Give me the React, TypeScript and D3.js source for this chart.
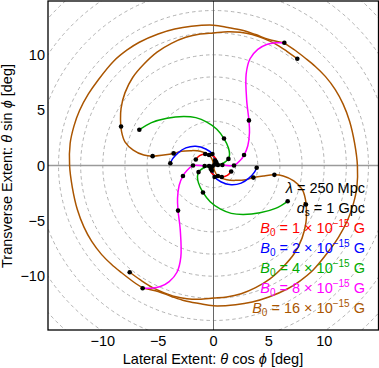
import React, { useEffect, useRef } from 'react';
import * as d3 from 'd3';

type Pt = [number, number];

const xTicks = [-10, -5, 0, 5, 10];
const yTicks = [-10, -5, 0, 5, 10];
const ringRadii = [2, 4, 6, 8, 10, 12, 14, 16, 18, 20];

// B0 = 1e-15 G
const redArm1: Pt[] = [[0, 0], [0.25, 0.3], [0.2, 0.65], [-0.2, 0.95], [-0.75, 1.05], [-1.25, 0.9], [-1.6, 0.55]];
const redArm2: Pt[] = [[0, 0], [-0.25, -0.3], [-0.2, -0.65], [0.2, -0.95], [0.75, -1.05], [1.25, -0.9], [1.6, -0.55]];
const redDots: Pt[] = [[0.1, 0.1], [0.25, 0.3], [-0.75, 1.05], [-1.6, 0.55], [-0.1, -0.1], [-0.25, -0.3], [0.75, -1.05], [1.6, -0.55]];

// B0 = 2e-15 G
const blueArm1: Pt[] = [[0, 0], [0.15, 0.45], [-0.1, 1.05], [-0.7, 1.5], [-1.6, 1.75], [-2.5, 1.6], [-3.2, 1.15], [-3.7, 0.6], [-3.9, 0.2]];
const blueArm2: Pt[] = [[0, 0], [-0.15, -0.45], [0.1, -1.05], [0.7, -1.5], [1.6, -1.75], [2.5, -1.6], [3.2, -1.15], [3.7, -0.6], [3.9, -0.2]];
const blueDots: Pt[] = [[0.15, 0.45], [-0.1, 1.05], [-3.9, 0.2], [-0.15, -0.45], [0.1, -1.05], [3.9, -0.2]];

// B0 = 4e-15 G
const greenArm1: Pt[] = [[0, 0], [0.4, 0.05], [0.95, 0.25], [1.35, 0.6], [1.45, 1.05], [1.35, 1.6], [0.95, 2.45], [0.3, 3.3], [-0.6, 3.95], [-1.6, 4.35], [-2.7, 4.45], [-4.2, 4.3], [-5.6, 3.9], [-6.7, 3.25]];
const greenArm2: Pt[] = [[0, 0], [-0.4, -0.05], [-0.95, -0.25], [-1.35, -0.6], [-1.45, -1.05], [-1.35, -1.6], [-0.95, -2.45], [-0.3, -3.3], [0.6, -3.95], [1.6, -4.35], [2.7, -4.45], [4.2, -4.3], [5.6, -3.9], [6.7, -3.25]];
const greenDots: Pt[] = [[0.4, 0.05], [1.35, 0.6], [0.95, 2.45], [-6.7, 3.25], [-0.4, -0.05], [-1.35, -0.6], [-0.95, -2.45], [6.7, -3.25]];

// B0 = 8e-15 G
const magentaArm1: Pt[] = [[0, 0], [0.8, 0.05], [1.85, 0.0], [2.4, 0.45], [2.76, 0.95], [3.1, 1.8], [3.25, 3.0], [3.2, 4.1], [3.0, 5.9], [2.95, 8.3], [3.3, 9.7], [4.0, 10.55], [4.8, 11.0], [5.6, 11.15], [6.4, 11.15]];
const magentaArm2: Pt[] = [[0, 0], [-0.8, -0.05], [-1.85, 0.0], [-2.4, -0.45], [-2.76, -0.95], [-3.1, -1.8], [-3.25, -3.0], [-3.2, -4.1], [-3.0, -5.9], [-2.95, -8.3], [-3.3, -9.7], [-4.0, -10.55], [-4.8, -11.0], [-5.6, -11.15], [-6.4, -11.15]];
const magentaDots: Pt[] = [[0.8, 0.05], [1.85, 0], [2.76, 0.95], [3.2, 4.1], [6.4, 11.15], [-0.8, -0.05], [-1.85, 0], [-2.76, -0.95], [-3.2, -4.1], [-6.4, -11.15]];

// B0 = 16e-15 G
const brownArm1: Pt[] = [[0, 0], [-0.1, 0.5], [-0.4, 0.95], [-1.2, 1.3], [-2.1, 1.35], [-2.9, 1.3], [-3.6, 1.1], [-4.5, 0.95], [-5.5, 0.85], [-6.3, 0.95], [-7.25, 1.4], [-8.0, 2.15], [-8.3, 3.05], [-8.4, 4.2], [-8.35, 5.2], [-8.0, 6.6], [-7.3, 8.0], [-6.3, 9.2], [-5.1, 10.3], [-3.8, 11.1], [-2.5, 11.65], [-1.2, 11.95], [0, 12.05], [1.3, 12.15], [2.4, 12.1], [3.5, 11.9], [4.5, 11.55], [5.5, 11.1], [6.6, 10.4], [7.57, 9.7]];
const brownArm2: Pt[] = [[0, 0], [0.1, -0.5], [0.4, -0.95], [1.2, -1.3], [2.1, -1.35], [2.9, -1.3], [3.6, -1.1], [4.5, -0.95], [5.5, -0.85], [6.3, -0.95], [7.25, -1.4], [8.0, -2.15], [8.3, -3.05], [8.4, -4.2], [8.35, -5.2], [8.0, -6.6], [7.3, -8.0], [6.3, -9.2], [5.1, -10.3], [3.8, -11.1], [2.5, -11.65], [1.2, -11.95], [0, -12.05], [-1.3, -12.15], [-2.4, -12.1], [-3.5, -11.9], [-4.5, -11.55], [-5.5, -11.1], [-6.6, -10.4], [-7.57, -9.7]];
const brownTail1: Pt[] = [[6.4, 11.13], [7.4, 10.45], [8.3, 9.75], [9.2, 9.0], [10.1, 8.1], [11.0, 6.9], [11.7, 5.6], [12.3, 4.0], [12.75, 2.0], [13.0, 0], [12.95, -2.0], [12.6, -3.6], [12.1, -5.0], [11.3, -6.5], [10.4, -7.8], [9.0, -9.5], [7.8, -10.5], [6.7, -11.2], [5.0, -11.95], [3.5, -12.4], [2.0, -12.65], [0, -12.75], [-1.3, -12.55], [-2.6, -12.3], [-3.8, -11.9], [-5.0, -11.45], [-6.4, -11.13]];
const brownTail2: Pt[] = [[-6.4, -11.13], [-7.4, -10.45], [-8.3, -9.75], [-9.2, -9.0], [-10.1, -8.1], [-11.0, -6.9], [-11.7, -5.6], [-12.3, -4.0], [-12.75, -2.0], [-13.0, 0], [-12.95, 2.0], [-12.6, 3.6], [-12.1, 5.0], [-11.3, 6.5], [-10.4, 7.8], [-9.0, 9.5], [-7.8, 10.5], [-6.7, 11.2], [-5.0, 11.95], [-3.5, 12.4], [-2.0, 12.65], [0, 12.75], [1.3, 12.55], [2.6, 12.3], [3.8, 11.9], [5.0, 11.45], [6.4, 11.13]];
const brownDots: Pt[] = [[-0.4, 0.95], [-3.6, 1.1], [-5.5, 0.85], [-8.35, 3.55], [7.57, 9.7], [0.4, -0.95], [3.6, -1.1], [5.5, -0.85], [8.35, -3.55], [-7.57, -9.7]];

const b0Values = ['1', '2', '4', '8', '16'];
const colors = ['#ff0000', '#0000ff', '#00aa00', '#ff00ff', '#aa5500'];

const series = [
  { curves: [redArm1, redArm2], dots: redDots },
  { curves: [blueArm1, blueArm2], dots: blueDots },
  { curves: [greenArm1, greenArm2], dots: greenDots },
  { curves: [magentaArm1, magentaArm2], dots: magentaDots },
  { curves: [brownArm1, brownArm2, brownTail1, brownTail2], dots: brownDots },
];

const FONT = '"Liberation Sans", Arial, Helvetica, sans-serif';

export default function App() {
  const ref = useRef<SVGSVGElement>(null);

  useEffect(() => {
    const width = 379, height = 368;
    const left = 48, right = 378.5, top = 1, bottom = 330;

    const svg = d3.select(ref.current);
    svg.selectAll('*').remove();

    const x = d3.scaleLinear().domain([-14.95, 14.95]).range([left, 379]);
    const y = d3.scaleLinear().domain([-14.95, 14.95]).range([bottom, top]);

    svg.append('rect').attr('width', width).attr('height', height).attr('fill', '#fff');

    svg.append('clipPath').attr('id', 'plotclip')
      .append('rect')
      .attr('x', left).attr('y', top)
      .attr('width', right - left).attr('height', bottom - top);

    const plot = svg.append('g').attr('clip-path', 'url(#plotclip)');

    // dashed rings
    plot.selectAll('.ring')
      .data(ringRadii)
      .enter()
      .append('circle')
      .attr('cx', x(0))
      .attr('cy', y(0))
      .attr('r', d => x(d) - x(0))
      .attr('fill', 'none')
      .attr('stroke', '#a0a0a0')
      .attr('stroke-width', 0.8)
      .attr('stroke-dasharray', '3.5,3');

    // axes through origin
    plot.append('line')
      .attr('x1', left).attr('x2', right)
      .attr('y1', y(0)).attr('y2', y(0))
      .attr('stroke', '#9a9a9a').attr('stroke-width', 1.5);
    plot.append('line')
      .attr('x1', x(0)).attr('x2', x(0))
      .attr('y1', top).attr('y2', bottom)
      .attr('stroke', '#666').attr('stroke-width', 1);

    const line = d3.line<Pt>()
      .x(d => x(d[0]))
      .y(d => y(d[1]))
      .curve(d3.curveCatmullRom.alpha(0.5));

    // brown underneath, red on top
    for (let i = series.length - 1; i >= 0; i--) {
      plot.selectAll('.c' + i)
        .data(series[i].curves)
        .enter()
        .append('path')
        .attr('d', d => line(d))
        .attr('fill', 'none')
        .attr('stroke', colors[i])
        .attr('stroke-width', 1.5);
    }

    const allDots = series.flatMap(s => s.dots);
    plot.selectAll('.dot')
      .data(allDots)
      .enter()
      .append('circle')
      .attr('cx', d => x(d[0]))
      .attr('cy', d => y(d[1]))
      .attr('r', 2.3)
      .attr('fill', '#000');

    // frame
    svg.append('rect')
      .attr('x', left).attr('y', top)
      .attr('width', right - left).attr('height', bottom - top)
      .attr('fill', 'none')
      .attr('stroke', '#000')
      .attr('stroke-width', 1.3);

    const fmt = (v: number) => (v < 0 ? '\u2212' + Math.abs(v) : String(v));

    svg.selectAll('.xt')
      .data(xTicks)
      .enter()
      .append('text')
      .attr('x', d => x(d))
      .attr('y', 346)
      .attr('text-anchor', 'middle')
      .style('font-family', FONT)
      .style('font-size', '14.5px')
      .text(d => fmt(d));

    svg.selectAll('.yt')
      .data(yTicks)
      .enter()
      .append('text')
      .attr('x', 45)
      .attr('y', d => y(d) + 5)
      .attr('text-anchor', 'end')
      .style('font-family', FONT)
      .style('font-size', '14.5px')
      .text(d => fmt(d));

    // axis titles
    const xt = svg.append('text')
      .attr('x', 213).attr('y', 364)
      .attr('text-anchor', 'middle')
      .style('font-family', FONT)
      .style('font-size', '14.5px');
    xt.append('tspan').text('Lateral Extent:  ');
    xt.append('tspan').attr('font-style', 'italic').text('\u03b8');
    xt.append('tspan').text(' cos ');
    xt.append('tspan').attr('font-style', 'italic').text('\u03d5');
    xt.append('tspan').text('  [deg]');

    const yt = svg.append('text')
      .attr('transform', 'translate(12,166) rotate(-90)')
      .attr('text-anchor', 'middle')
      .style('font-family', FONT)
      .style('font-size', '14.5px');
    yt.append('tspan').text('Transverse Extent:  ');
    yt.append('tspan').attr('font-style', 'italic').text('\u03b8');
    yt.append('tspan').text(' sin ');
    yt.append('tspan').attr('font-style', 'italic').text('\u03d5');
    yt.append('tspan').text('  [deg]');

    // legend
    const lx = 365;
    const lam = svg.append('text').attr('x', lx).attr('y', 193)
      .attr('text-anchor', 'end').style('font-family', FONT).style('font-size', '14.5px');
    lam.append('tspan').attr('font-style', 'italic').text('\u03bb');
    lam.append('tspan').text(' = 250 Mpc');

    const ds = svg.append('text').attr('x', lx).attr('y', 213)
      .attr('text-anchor', 'end').style('font-family', FONT).style('font-size', '14.5px');
    ds.append('tspan').attr('font-style', 'italic').text('d');
    ds.append('tspan').attr('font-size', '10px').attr('dy', 3).text('s');
    ds.append('tspan').attr('dy', -3).text(' = 1 Gpc');

    b0Values.forEach((b, i) => {
      const t = svg.append('text').attr('x', lx).attr('y', 233 + i * 20)
        .attr('text-anchor', 'end').attr('fill', colors[i])
        .style('font-family', FONT).style('font-size', '14.5px');
      t.append('tspan').attr('font-style', 'italic').text('B');
      t.append('tspan').attr('font-size', '10px').attr('dy', 3).text('0');
      t.append('tspan').attr('dy', -3).text(' = ' + b + ' \u00d7 10');
      t.append('tspan').attr('font-size', '10px').attr('dy', -6).text('\u221215');
      t.append('tspan').attr('dy', 6).text(' G');
    });
  }, []);

  return (
    <svg ref={ref} width={379} height={368}
      style={{ position: 'absolute', left: 0, top: 0, display: 'block' }} />
  );
}
